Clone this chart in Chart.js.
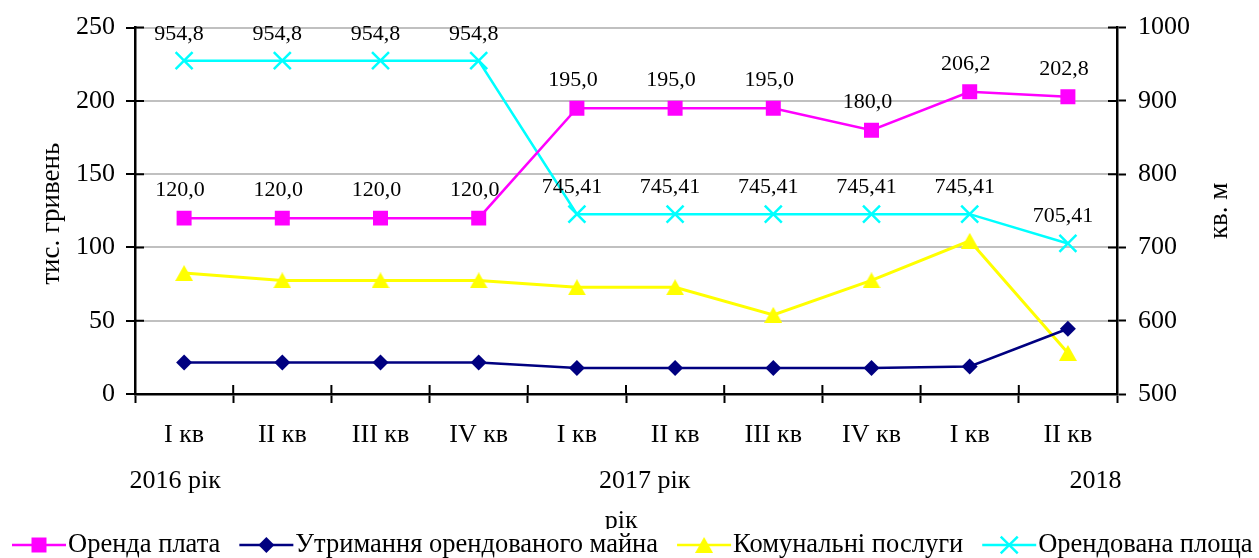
<!DOCTYPE html>
<html><head><meta charset="utf-8">
<script src="https://cdn.jsdelivr.net/npm/chart.js@4"></script>
<style>html,body{margin:0;padding:0;background:#fff;overflow:hidden}#wrap{width:1259px;height:558px}</style>
</head><body><div id="wrap"><canvas id="c" width="1259" height="558"></canvas></div>
<script>
const categories = ['I кв','II кв','III кв','IV кв','I кв','II кв','III кв','IV кв','I кв','II кв'];
const yearLabels = ['2016 рік','2017 рік','2018'];
const yearExtra = 'рік';
const rentPayment = [120,120,120,120,195,195,195,180,206.2,202.8];
const maintenance = [21.5,21.5,21.5,21.5,17.8,17.8,17.8,17.8,18.8,44.5];
const utilities = [82.5,77.5,77.5,77.5,72.8,72.8,54,77.5,104.5,28];
const rentedArea = [954.8,954.8,954.8,954.8,745.41,745.41,745.41,745.41,745.41,705.41];
const seriesNames = ['Оренда плата','Утримання орендованого майна','Комунальні послуги','Орендована площа'];
const leftTitle = 'тис. гривень';
const rightTitle = 'кв. м';

const FONT = 'Liberation Serif';
const C_MAG = '#FF00FF', C_NAVY = '#000080', C_YEL = '#FFFF00', C_CYAN = '#00FFFF';

function makeTriangle(color){
  const cv = document.createElement('canvas');
  cv.width = 18; cv.height = 16;
  const g = cv.getContext('2d');
  g.fillStyle = color;
  g.beginPath(); g.moveTo(9,0); g.lineTo(18,16); g.lineTo(0,16); g.closePath(); g.fill();
  return cv;
}
const triStyle = makeTriangle(C_YEL);

const labelFmt1 = v => v.toFixed(1).replace('.', ',');
const labelFmt2 = v => String(v).replace('.', ',');

const deco = {
  id: 'deco',
  beforeDatasetsDraw(chart){
    const {ctx, chartArea: a, scales: {x, y, y1}} = chart;
    ctx.save();
    ctx.strokeStyle = '#000'; ctx.lineWidth = 2;
    ctx.beginPath();
    y.ticks.forEach(t => { const py = y.getPixelForValue(t.value); ctx.moveTo(a.left, py); ctx.lineTo(a.left + 9, py); });
    y1.ticks.forEach(t => { const py = y1.getPixelForValue(t.value); ctx.moveTo(a.right, py); ctx.lineTo(a.right - 9, py); });
    for (let i = 0; i <= categories.length; i++) {
      const px = x.getPixelForValue(i - 0.5);
      ctx.moveTo(px, a.bottom); ctx.lineTo(px, a.bottom - 9);
    }
    ctx.stroke();
    ctx.restore();
  },
  afterDatasetsDraw(chart){
    const {ctx} = chart;
    ctx.save();
    ctx.fillStyle = '#000';
    ctx.font = '22px "' + FONT + '"';
    ctx.textAlign = 'center'; ctx.textBaseline = 'middle';
    const m0 = chart.getDatasetMeta(0), m3 = chart.getDatasetMeta(3);
    m0.data.forEach((p, i) => ctx.fillText(labelFmt1(rentPayment[i]), p.x - 4, p.y - 28));
    m3.data.forEach((p, i) => ctx.fillText(labelFmt2(rentedArea[i]), p.x - 5, p.y - 27));
    ctx.restore();
  },
  afterDraw(chart){
    const {ctx, chartArea: a, scales: {x}} = chart;
    ctx.save();
    ctx.fillStyle = '#000';
    ctx.textBaseline = 'middle';
    ctx.textAlign = 'center';
    // axis titles
    ctx.font = '27px "' + FONT + '"';
    const midY = (a.top + a.bottom) / 2;
    ctx.save(); ctx.translate(52, midY + 3); ctx.rotate(-Math.PI/2); ctx.fillText(leftTitle, 0, 0); ctx.restore();
    ctx.save(); ctx.translate(1220, midY); ctx.rotate(-Math.PI/2); ctx.fillText(rightTitle, 0, 0); ctx.restore();
    // year row
    ctx.font = '26px "' + FONT + '"';
    const yearPos = [-0.09, 4.69, 9.28];
    yearLabels.forEach((t, i) => ctx.fillText(t, x.getPixelForValue(yearPos[i]), 481));
    ctx.fillText(yearExtra, x.getPixelForValue(4.45), 521);
    // legend
    ctx.fillStyle = '#fff';
    ctx.fillRect(0, 529, chart.width, chart.height - 529);
    ctx.font = '26.5px "' + FONT + '"';
    const ly = 545;
    const items = [
      {c: C_MAG, s: 'rect', r: 10.6, bw: 0},
      {c: C_NAVY, s: 'rectRot', r: 8, bw: 0},
      {c: C_YEL, s: triStyle, r: 9, bw: 0},
      {c: C_CYAN, s: 'crossRot', r: 12, bw: 2.5}
    ];
    let lx = 12;
    items.forEach((it, i) => {
      ctx.strokeStyle = it.c; ctx.lineWidth = 2.5;
      ctx.beginPath(); ctx.moveTo(lx, ly); ctx.lineTo(lx + 54, ly); ctx.stroke();
      ctx.fillStyle = it.c; ctx.strokeStyle = it.c; ctx.lineWidth = it.bw || 1;
      Chart.helpers.drawPoint(ctx, {pointStyle: it.s, radius: it.r, borderWidth: it.bw, rotation: 0}, lx + 27, ly);
      ctx.fillStyle = '#000';
      ctx.textAlign = 'left';
      ctx.fillText(seriesNames[i], lx + 56, ly);
      lx += 56 + ctx.measureText(seriesNames[i]).width + 19;
    });
    ctx.restore();
  }
};

const tickFont = {family: FONT, size: 26};
new Chart(document.getElementById('c'), {
  type: 'line',
  data: {
    labels: categories,
    datasets: [
      {label: seriesNames[0], data: rentPayment, yAxisID: 'y', borderColor: C_MAG, backgroundColor: C_MAG,
       borderWidth: 2.5, pointStyle: 'rect', pointRadius: 10.6, pointBorderWidth: 0, pointBackgroundColor: C_MAG, tension: 0},
      {label: seriesNames[1], data: maintenance, yAxisID: 'y', borderColor: C_NAVY, backgroundColor: C_NAVY,
       borderWidth: 2.5, pointStyle: 'rectRot', pointRadius: 8, pointBorderWidth: 0, pointBackgroundColor: C_NAVY, tension: 0},
      {label: seriesNames[2], data: utilities, yAxisID: 'y', borderColor: C_YEL, backgroundColor: C_YEL,
       borderWidth: 3, pointStyle: triStyle, pointRadius: 9, pointBorderWidth: 0, pointBackgroundColor: C_YEL, tension: 0},
      {label: seriesNames[3], data: rentedArea, yAxisID: 'y1', borderColor: C_CYAN, backgroundColor: C_CYAN,
       borderWidth: 2.5, pointStyle: 'crossRot', pointRadius: 12, pointBorderWidth: 2.5, pointBorderColor: C_CYAN, tension: 0}
    ]
  },
  options: {
    responsive: false, animation: false, devicePixelRatio: 1,
    layout: {padding: {top: 25, left: 0, right: 0, bottom: 0}},
    plugins: {legend: {display: false}, tooltip: {enabled: false}, title: {display: false}},
    scales: {
      x: {
        offset: true,
        grid: {offset: true, drawOnChartArea: false, drawTicks: true, tickLength: 9, tickColor: '#000', tickWidth: 2},
        border: {color: '#000', width: 2.5},
        ticks: {font: tickFont, color: '#000', padding: 17, maxRotation: 0, autoSkip: false},
        afterFit(s){ s.height = 164; }
      },
      y: {
        position: 'left', min: 0, max: 250,
        ticks: {stepSize: 50, font: tickFont, color: '#000', padding: 11},
        grid: {color: '#c0c0c0', lineWidth: 2, tickLength: 9, tickColor: '#000', tickWidth: 2},
        border: {color: '#000', width: 2.5},
        afterFit(s){ s.width = 135; }
      },
      y1: {
        position: 'right', min: 500, max: 1000,
        ticks: {stepSize: 100, font: tickFont, color: '#000', padding: 12, callback: v => String(v)},
        grid: {drawOnChartArea: false, tickLength: 9, tickColor: '#000', tickWidth: 2},
        border: {color: '#000', width: 2.5},
        afterFit(s){ s.width = 142; }
      }
    }
  },
  plugins: [deco]
});
</script>
</body></html>
